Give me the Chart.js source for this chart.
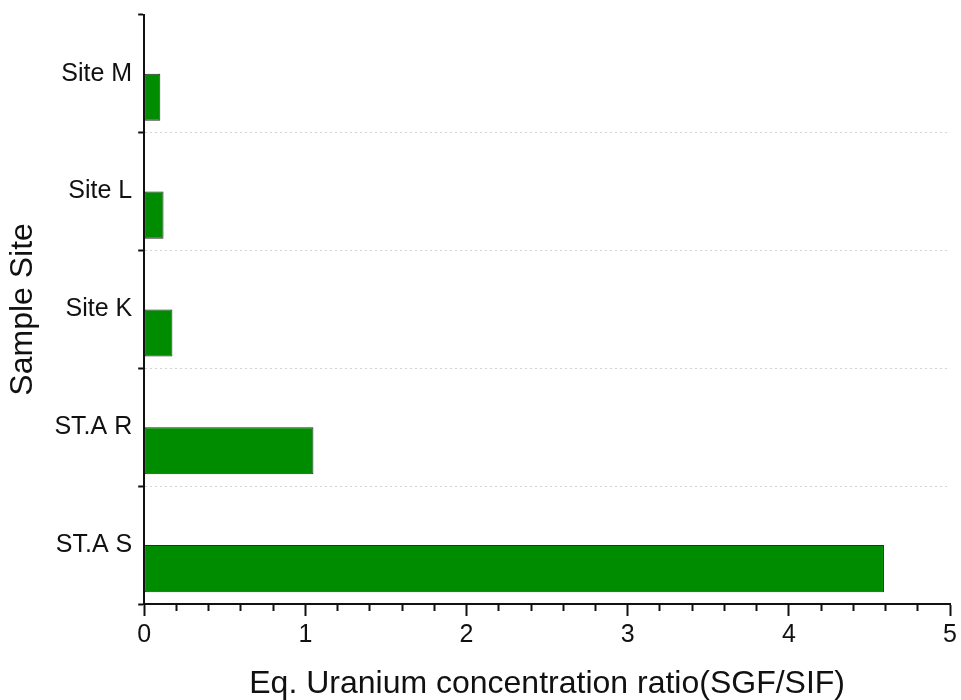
<!DOCTYPE html>
<html>
<head>
<meta charset="utf-8">
<script src="https://cdn.jsdelivr.net/npm/chart.js@4"></script>
<style>
  body { margin: 0; background: #fff; }
</style>
</head>
<body>
<canvas id="chart" width="961" height="700"></canvas>
<script>
// categories listed top to bottom, as on the y axis
const sites = ['Site M', 'Site L', 'Site K', 'ST.A R', 'ST.A S'];
const ratios = [0.10, 0.12, 0.175, 1.05, 4.59];
const xMin = 0;
const xMax = 5;
const xStep = 0.2;

const isMajor = (v) => Math.abs(v - Math.round(v)) < 1e-6;

const ctx = document.getElementById('chart').getContext('2d');
new Chart(ctx, {
    type: 'bar',
    data: {
        labels: sites,
        datasets: [{
            // empty slot so the bar sits in the lower half of each band
            data: sites.map(() => null),
            backgroundColor: 'transparent'
        }, {
            label: 'Ratio',
            data: ratios,
            backgroundColor: '#008c00',
            borderColor: '#2b2b2b',
            borderWidth: 1,
            borderSkipped: false
        }]
    },
    options: {
        indexAxis: 'y',
        responsive: false,
        animation: false,
        layout: {
            padding: { top: 0, right: 9, left: 4, bottom: 0 }
        },
        datasets: {
            bar: {
                categoryPercentage: 0.8,
                barPercentage: 1.0
            }
        },
        scales: {
            x: {
                min: xMin,
                max: xMax,
                ticks: {
                    stepSize: xStep,
                    autoSkip: false,
                    maxRotation: 0,
                    padding: 4,
                    color: '#111',
                    font: { family: 'Liberation Sans', size: 25 },
                    callback: (v) => isMajor(v) ? String(Math.round(v)) : ''
                },
                grid: {
                    drawOnChartArea: false,
                    tickLength: 12,
                    tickWidth: 2,
                    tickColor: '#111',
                    tickBorderDash: (c) => isMajor(c.tick.value) ? [] : [6, 30]
                },
                border: { color: '#111', width: 2 },
                title: {
                    display: true,
                    text: 'Eq. Uranium concentration ratio(SGF/SIF)',
                    color: '#111',
                    font: { family: 'Liberation Sans', size: 32, lineHeight: 1.0 },
                    padding: { top: 14, bottom: 0 }
                }
            },
            y: {
                offset: true,
                ticks: {
                    padding: 6,
                    color: '#111',
                    font: { family: 'Liberation Sans', size: 25, lineHeight: 0.7 }
                },
                grid: {
                    offset: true,
                    color: (c) => c.index === 0 ? 'transparent' : '#d4d4d4',
                    lineWidth: 1,
                    tickLength: 6,
                    tickWidth: 2,
                    tickColor: '#111',
                    tickBorderDash: []
                },
                border: { color: '#111', width: 2, dash: [2, 3] },
                title: {
                    display: true,
                    text: 'Sample Site',
                    color: '#111',
                    font: { family: 'Liberation Sans', size: 32 },
                    padding: { top: 0, bottom: 6 }
                }
            }
        },
        plugins: {
            legend: { display: false },
            tooltip: { enabled: false }
        }
    }
});
</script>
</body>
</html>
